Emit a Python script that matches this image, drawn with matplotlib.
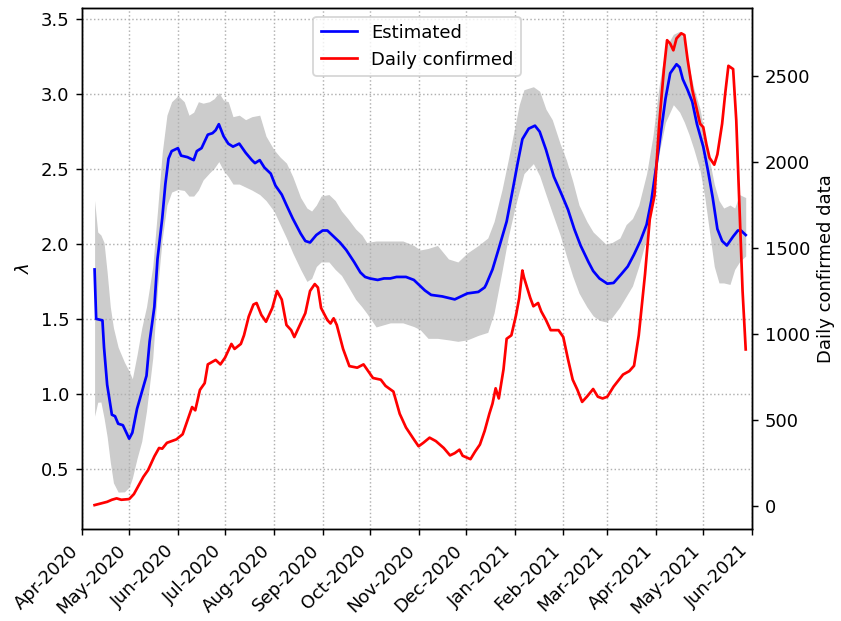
import numpy as np
import matplotlib
matplotlib.use('Agg')
import matplotlib.pyplot as plt
import matplotlib.dates as mdates

# Dati (giorni dal 1 aprile 2020)
start = np.datetime64('2020-04-01')

est_day = [8, 9, 13, 14, 16, 19, 21, 23, 26, 30, 32, 35, 38, 41, 43, 46, 48, 51, 53, 55,
           57, 61, 63, 67, 71, 73, 76, 80, 83, 85, 87, 90, 93, 96, 100, 104, 108, 110, 113, 116,
           120, 123, 127, 130, 134, 139, 142, 145, 149, 153, 156, 160, 164, 168, 173, 177, 180, 183, 188, 192,
           196, 200, 206, 211, 215, 218, 222, 229, 237, 245, 252, 256, 257, 259, 261, 265, 270, 274, 277, 280,
           284, 288, 291, 295, 300, 305, 309, 313, 317, 322, 325, 329, 334, 338, 343, 347, 351, 355, 359, 362,
           365, 368, 371, 374, 378, 380, 382, 385, 388, 391, 395, 398, 401, 404, 407, 410, 414, 417, 419, 422]
est_val = [1.83, 1.50, 1.49, 1.31, 1.06, 0.86, 0.85, 0.80, 0.79, 0.70, 0.74, 0.90, 1.01, 1.12, 1.35, 1.58, 1.90, 2.17, 2.40, 2.57,
           2.62, 2.64, 2.59, 2.58, 2.56, 2.62, 2.64, 2.73, 2.74, 2.76, 2.80, 2.72, 2.67, 2.65, 2.67, 2.61, 2.56, 2.54, 2.56, 2.51,
           2.47, 2.39, 2.33, 2.26, 2.17, 2.07, 2.02, 2.01, 2.06, 2.09, 2.09, 2.05, 2.01, 1.96, 1.88, 1.81, 1.78, 1.77, 1.76, 1.77,
           1.77, 1.78, 1.78, 1.76, 1.72, 1.69, 1.66, 1.65, 1.63, 1.67, 1.68, 1.71, 1.73, 1.78, 1.83, 1.97, 2.15, 2.37, 2.54, 2.70,
           2.77, 2.79, 2.75, 2.63, 2.45, 2.33, 2.23, 2.10, 1.99, 1.88, 1.82, 1.77, 1.735, 1.74, 1.80, 1.85, 1.93, 2.02, 2.13, 2.29,
           2.51, 2.74, 2.97, 3.14, 3.20, 3.18, 3.10, 3.03, 2.95, 2.80, 2.65, 2.49, 2.31, 2.10, 2.02, 1.99, 2.05, 2.09, 2.09, 2.06]

upper_day = [8, 10, 12, 14, 16, 18, 20, 23, 27, 30, 32, 35, 38, 41, 45, 48, 51, 54, 57, 61,
             65, 68, 71, 74, 77, 81, 84, 87, 90, 93, 96, 100, 104, 108, 113, 117, 122, 126, 130, 134,
             139, 143, 146, 149, 152, 157, 161, 165, 169, 174, 178, 181, 187, 196, 204, 211, 215, 220, 226, 233,
             239, 245, 252, 258, 262, 267, 271, 275, 278, 281, 287, 291, 295, 299, 304, 308, 312, 316, 321, 325,
             329, 333, 337, 342, 346, 350, 354, 359, 363, 367, 371, 376, 380, 383, 386, 389, 393, 396, 399, 402,
             405, 408, 412, 415, 418, 422]
upper_val = [2.29, 2.08, 2.06, 2.01, 1.81, 1.58, 1.44, 1.31, 1.21, 1.15, 1.10, 1.26, 1.44, 1.58, 1.85, 2.22, 2.61, 2.86, 2.95, 2.99,
             2.95, 2.86, 2.88, 2.95, 2.94, 2.95, 2.97, 3.01, 2.96, 2.95, 2.85, 2.86, 2.83, 2.85, 2.86, 2.72, 2.63, 2.58, 2.54, 2.45,
             2.31, 2.24, 2.22, 2.26, 2.32, 2.33, 2.29, 2.22, 2.17, 2.10, 2.06, 2.01, 2.02, 2.02, 2.02, 1.99, 1.96, 1.97, 1.99, 1.90,
             1.88, 1.94, 1.99, 2.04, 2.15, 2.36, 2.56, 2.77, 2.93, 3.03, 3.05, 3.02, 2.90, 2.83, 2.67, 2.56, 2.42, 2.26, 2.15, 2.08,
             2.04, 2.00, 2.01, 2.04, 2.13, 2.17, 2.26, 2.47, 2.72, 3.06, 3.31, 3.40, 3.42, 3.36, 3.18, 3.04, 2.90, 2.72, 2.56, 2.40,
             2.29, 2.24, 2.26, 2.24, 2.33, 2.31]

lower_day = [8, 11, 13, 15, 17, 19, 21, 24, 28, 31, 34, 37, 40, 42, 45, 47, 50, 53, 56, 59,
             64, 68, 71, 74, 78, 83, 87, 90, 93, 96, 100, 104, 108, 113, 117, 122, 126, 130, 134, 139,
             143, 146, 149, 152, 157, 161, 165, 169, 174, 178, 183, 188, 194, 200, 206, 213, 218, 220, 226, 233,
             239, 245, 252, 258, 261, 265, 269, 273, 277, 281, 286, 289, 293, 297, 302, 306, 310, 314, 319, 321,
             325, 329, 333, 337, 342, 346, 350, 354, 359, 362, 365, 368, 372, 376, 380, 384, 388, 393, 396, 399,
             402, 405, 408, 412, 415, 418, 422]
lower_val = [0.85, 0.99, 0.90, 0.78, 0.645, 0.44, 0.37, 0.33, 0.35, 0.39, 0.53, 0.645, 0.76, 1.01, 1.24, 1.58, 1.94, 2.22, 2.34, 2.36,
             2.37, 2.32, 2.32, 2.36, 2.45, 2.49, 2.55, 2.49, 2.45, 2.40, 2.40, 2.38, 2.36, 2.33, 2.29, 2.22, 2.13, 2.04, 1.94, 1.83,
             1.75, 1.77, 1.85, 1.88, 1.88, 1.83, 1.79, 1.72, 1.63, 1.58, 1.51, 1.43, 1.47, 1.48, 1.47, 1.44, 1.41, 1.37, 1.37, 1.36,
             1.35, 1.36, 1.39, 1.41, 1.49, 1.69, 1.94, 2.15, 2.31, 2.47, 2.55, 2.51, 2.40, 2.26, 2.13, 1.99, 1.85, 1.72, 1.60, 1.58,
             1.52, 1.49, 1.48, 1.51, 1.58, 1.65, 1.72, 1.85, 2.04, 2.26, 2.49, 2.67, 2.86, 2.93, 2.88, 2.79, 2.67, 2.49, 2.31, 2.08,
             1.85, 1.74, 1.74, 1.73, 1.83, 1.88, 1.92]

conf_day = [8, 11, 16, 19, 22, 25, 30, 33, 36, 39, 42, 46, 49, 51, 54, 57, 60, 64, 67, 70,
            72, 75, 78, 80, 85, 88, 91, 93, 95, 97, 101, 103, 106, 109, 111, 114, 117, 121, 124, 127,
            130, 133, 135, 139, 142, 145, 148, 150, 152, 156, 158, 160, 162, 166, 170, 175, 179, 182, 185, 190,
            193, 198, 202, 206, 211, 214, 217, 221, 225, 230, 234, 237, 240, 242, 247, 250, 253, 256, 259, 261,
            263, 265, 268, 270, 273, 276, 278, 280, 281, 285, 287, 290, 292, 295, 298, 303, 306, 309, 312, 315,
            318, 321, 325, 328, 331, 334, 338, 344, 348, 351, 354, 358, 361, 364, 367, 370, 372, 374, 376, 378,
            381, 383, 385, 388, 393, 395, 397, 399, 402, 404, 407, 409, 411, 414, 416, 418, 420, 422]
conf_val = [5, 12, 24, 36, 44, 36, 40, 69, 119, 169, 208, 288, 337, 333, 367, 377, 387, 417, 496, 575,
            556, 675, 714, 823, 849, 823, 863, 903, 942, 913, 942, 992, 1101, 1171, 1180, 1111, 1071, 1151, 1250, 1200,
            1052, 1022, 982, 1061, 1121, 1250, 1290, 1270, 1151, 1081, 1061, 1091, 1052, 913, 813, 804, 823, 784, 744, 734,
            698, 665, 536, 456, 387, 347, 367, 397, 377, 337, 294, 307, 327, 292, 272, 317, 357, 436, 536, 595,
            684, 625, 794, 972, 992, 1111, 1210, 1369, 1329, 1210, 1161, 1180, 1131, 1081, 1022, 1022, 982, 853, 734, 675,
            605, 635, 680, 635, 625, 635, 694, 764, 784, 815, 992, 1349, 1667, 1805, 2222, 2540, 2708, 2688, 2649, 2718,
            2748, 2738, 2599, 2421, 2222, 2202, 2103, 2024, 1984, 2044, 2222, 2401, 2559, 2540, 2242, 1746, 1250, 910]


def to_dates(days):
    return start + np.array(days).astype('timedelta64[D]')


fig = plt.figure(figsize=(841 / 130, 621 / 130), dpi=130)
ax = fig.add_axes([82 / 841, 92 / 621, 670 / 841, 521.5 / 621])

ax.fill_between(to_dates(upper_day), np.interp(upper_day, upper_day, upper_val),
                np.interp(upper_day, lower_day, lower_val),
                color='0.8', linewidth=0)
l1, = ax.plot(to_dates(est_day), est_val, color='blue', lw=1.5, label='Estimated')
ax.set_ylabel(r'$\lambda$')
ax.set_ylim(0.097, 3.579)
ax.grid(True, linestyle=':')

ax2 = ax.twinx()
l2, = ax2.plot(to_dates(conf_day), conf_val, color='red', lw=1.5, label='Daily confirmed')
ax2.set_ylabel('Daily confirmed data')
ax2.set_ylim(-134, 2898)

ax.set_xlim(np.datetime64('2020-04-01'), np.datetime64('2021-06-01'))
ax.xaxis.set_major_locator(mdates.MonthLocator())
ax.xaxis.set_major_formatter(mdates.DateFormatter('%b-%Y'))
plt.setp(ax.get_xticklabels(), rotation=45, ha='right')

ax2.legend(handles=[l1, l2], loc='upper center')

fig.savefig('out.png', dpi=130)
